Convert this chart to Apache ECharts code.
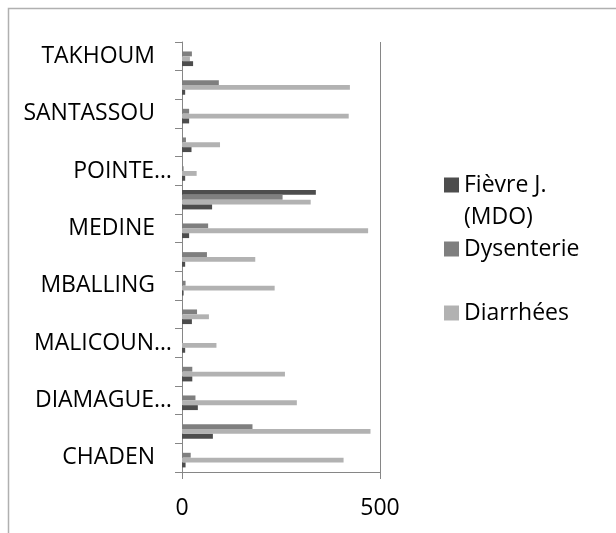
<!DOCTYPE html>
<html>
<head>
<meta charset="utf-8">
<script src="https://cdn.jsdelivr.net/npm/echarts@6/dist/echarts.min.js"></script>
<style>
html,body{margin:0;padding:0;background:#fff;}
#chart{width:616px;height:533px;}
</style>
</head>
<body>
<div id="chart"></div>
<script>
// Categories bottom -> top (labels shown on every other category)
const categories = ['CHADEN','CROISEMENT','DIAMAGUE…','GRAND MBOUR','MALICOUN…','MALICOUNDA W.','MBALLING','MBOUR TOUC.','MEDINE','NGUEKHOKH','POINTE…','SALY','SANTASSOU','SOMONE','TAKHOUM'];
const fievre     = [0,0,0,0,0,0,0,0,0,338,0,0,0,0,0];
const dysenterie = [22,178,34,26,0,38,9,63,66,254,4,10,18,93,25];
const diarrhees  = [408,476,290,260,87,68,234,185,470,325,37,96,421,424,20];
const autres     = [9,78,40,26,8,25,4,8,18,76,8,24,18,8,28];
const xTicks = [0, 500];

const FONT = '"Open Sans", "Liberation Sans", sans-serif';
const chart = echarts.init(document.getElementById('chart'), null, {renderer:'canvas'});
const axisGray = '#868686';
const legendText = {
  'Fièvre J. (MDO)': ' \nFièvre J.\n(MDO)',
  'Dysenterie': 'Dysenterie',
  'Diarrhées': ' \nDiarrhées\n '
};

chart.setOption({
  animation: false,
  backgroundColor: '#fff',
  graphic: [{
    type: 'rect', silent: true,
    shape: {x: 8.5, y: 8.5, width: 800, height: 800},
    style: {fill: 'none', stroke: '#b0b0b0', lineWidth: 1.5}
  }],
  grid: {left: 182, top: 42, width: 198, height: 430, containLabel: false},
  legend: {
    orient: 'vertical', left: 444, top: 137, padding: 0, itemGap: 0,
    itemWidth: 15, itemHeight: 15, icon: 'rect', selectedMode: false,
    textStyle: {fontFamily: FONT, fontSize: 23, color: '#000', lineHeight: 32},
    formatter: n => legendText[n] || n,
    data: ['Fièvre J. (MDO)', 'Dysenterie', 'Diarrhées']
  },
  xAxis: {
    type: 'value', min: xTicks[0], max: xTicks[1], interval: xTicks[1] - xTicks[0],
    axisLine: {show: true, lineStyle: {color: axisGray, width: 1}},
    axisTick: {show: true, length: 7, lineStyle: {color: axisGray}},
    splitLine: {show: true, lineStyle: {color: axisGray, width: 1}},
    axisLabel: {fontFamily: FONT, fontSize: 23, color: '#000', margin: 25}
  },
  yAxis: {
    type: 'category', data: categories,
    axisLine: {show: true, lineStyle: {color: axisGray, width: 1}},
    axisTick: {show: true, interval: 0, length: 7, alignWithLabel: false, lineStyle: {color: axisGray}},
    axisLabel: {
      interval: 1, fontFamily: FONT, fontSize: 23, color: '#000', margin: 10,
      formatter: v => v.indexOf('…') >= 0 ? v : v + '{p| }',
      rich: {p: {width: 17, fontSize: 23}}
    }
  },
  series: [
    {name: 'Fièvre J. (MDO)', type: 'bar', data: fievre, itemStyle: {color: '#4d4d4d'}, barGap: '0%', barCategoryGap: '32%'},
    {name: 'Dysenterie', type: 'bar', data: dysenterie, itemStyle: {color: '#7f7f7f'}, barGap: '0%', barCategoryGap: '32%'},
    {name: 'Diarrhées', type: 'bar', data: diarrhees, itemStyle: {color: '#b2b2b2'}, barGap: '0%', barCategoryGap: '32%'},
    {name: 'Autres', type: 'bar', data: autres, itemStyle: {color: '#4d4d4d'}, barGap: '0%', barCategoryGap: '32%'}
  ]
});
</script>
</body>
</html>
